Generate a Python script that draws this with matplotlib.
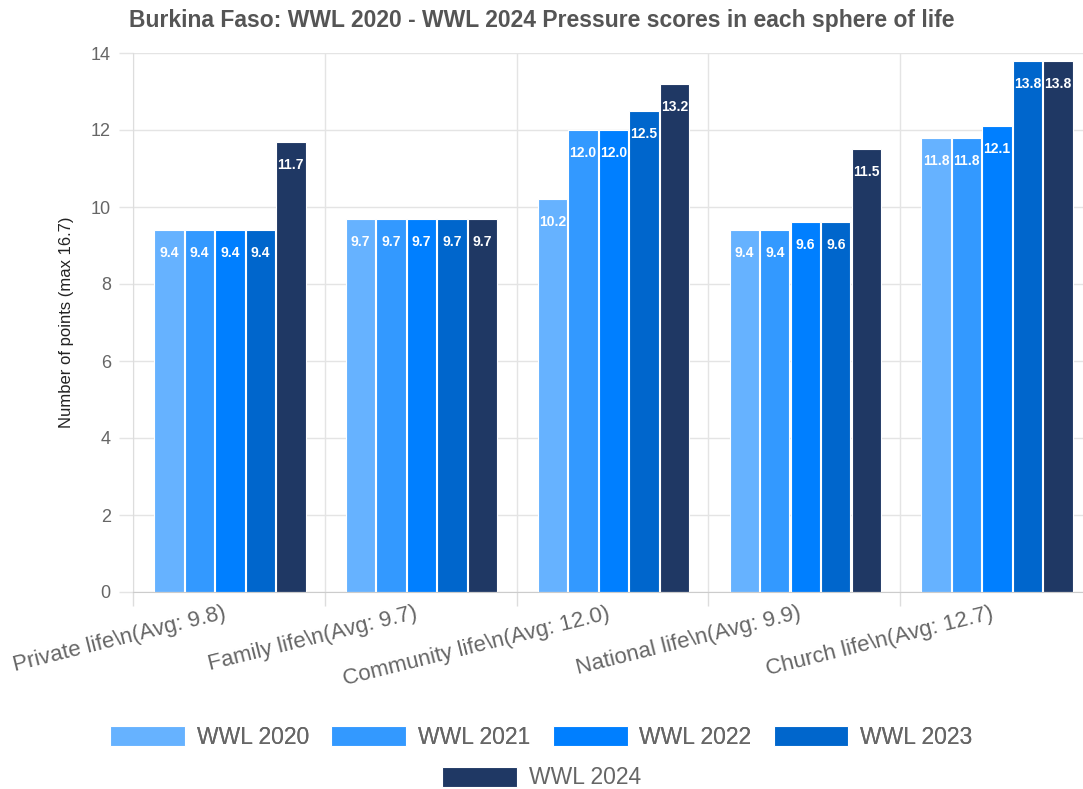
import matplotlib.pyplot as plt
import matplotlib.transforms as mtransforms
import numpy as np
from matplotlib.patches import Patch

plt.rcParams['font.family'] = ['Liberation Sans', 'DejaVu Sans']

# datos
categorias = ['Private life\\n(Avg: 9.8)', 'Family life\\n(Avg: 9.7)', 'Community life\\n(Avg: 12.0)',
              'National life\\n(Avg: 9.9)', 'Church life\\n(Avg: 12.7)']
series = ['WWL 2020', 'WWL 2021', 'WWL 2022', 'WWL 2023', 'WWL 2024']
wwl2020 = [9.4, 9.7, 10.2, 9.4, 11.8]
wwl2021 = [9.4, 9.7, 12.0, 9.4, 11.8]
wwl2022 = [9.4, 9.7, 12.0, 9.6, 12.1]
wwl2023 = [9.4, 9.7, 12.5, 9.6, 13.8]
wwl2024 = [11.7, 9.7, 13.2, 11.5, 13.8]
valores = [wwl2020, wwl2021, wwl2022, wwl2023, wwl2024]
colores = ['#66b2ff', '#3399ff', '#007fff', '#0066cc', '#1f3864']

fig = plt.figure(figsize=(10.83, 7.89), dpi=100)
ax = fig.add_axes([133/1083, 197/789, 959/1083, 539/789])

x = np.arange(len(categorias))
paso = 0.159
ancho = 0.153
for k, (nombre, vals, c) in enumerate(zip(series, valores, colores)):
    pos = x + 0.505 + (k - 2) * paso
    ax.bar(pos, vals, width=ancho, color=c, edgecolor='white', linewidth=0.8, label=nombre, zorder=2)
    for p, v in zip(pos, vals):
        ax.annotate('%.1f' % v, (p, v), xytext=(0, -23), textcoords='offset pixels',
                    ha='center', va='center', color='white', fontsize=10, fontweight='bold', zorder=3)

ax.set_xlim(0, 5)
ax.set_ylim(0, 14)
ax.set_yticks(np.arange(0, 15, 2))
ax.set_xticks(np.arange(0, 6))
ax.set_xticklabels([])
ax.set_xticks(x + 0.5, minor=True)
ax.set_xticklabels(categorias, minor=True, rotation=14, ha='right', rotation_mode='anchor')
ax.tick_params(axis='x', which='major', length=10, color='#dddddd', width=1)
ax.tick_params(axis='x', which='minor', length=0, pad=8, labelsize=16, labelcolor='#666666')
desplaza = mtransforms.ScaledTranslation(-6/100, 0, fig.dpi_scale_trans)
for t in ax.get_xticklabels(minor=True):
    t.set_transform(t.get_transform() + desplaza)
ax.tick_params(axis='y', length=10, color='#e4e4e4', width=1, pad=6, labelsize=13, labelcolor='#666666')
ax.grid(True, which='major', color='#e4e4e4', linewidth=1, zorder=0)
for s in ['top', 'right']:
    ax.spines[s].set_visible(False)
ax.spines['left'].set_color('#dddddd')
ax.spines['bottom'].set_color('#cccccc')
ax.set_ylabel('Number of points (max 16.7)', fontsize=12, color='#222222', labelpad=12)

fig.text(0.5, 1 - 20/789, 'Burkina Faso: WWL 2020 - WWL 2024 Pressure scores in each sphere of life',
         ha='center', va='center', fontsize=16.5, fontweight='bold', color='#555555')

manijas = [Patch(facecolor=c, edgecolor='white', linewidth=0.8) for c in colores]
leg1 = fig.legend(manijas[:4], series[:4], loc='center', bbox_to_anchor=(0.5, 1 - 737/789), ncol=4,
                  frameon=False, fontsize=16.5, handlelength=3.27, handleheight=0.96, handletextpad=0.52,
                  columnspacing=0.96, labelcolor='#666666')
leg2 = fig.legend(manijas[4:], series[4:], loc='center', bbox_to_anchor=(0.5, 1 - 778/789), ncol=1,
                  frameon=False, fontsize=16.5, handlelength=3.27, handleheight=0.96, handletextpad=0.52,
                  labelcolor='#666666')
fig.add_artist(leg1)

plt.savefig('out.png', dpi=100)
